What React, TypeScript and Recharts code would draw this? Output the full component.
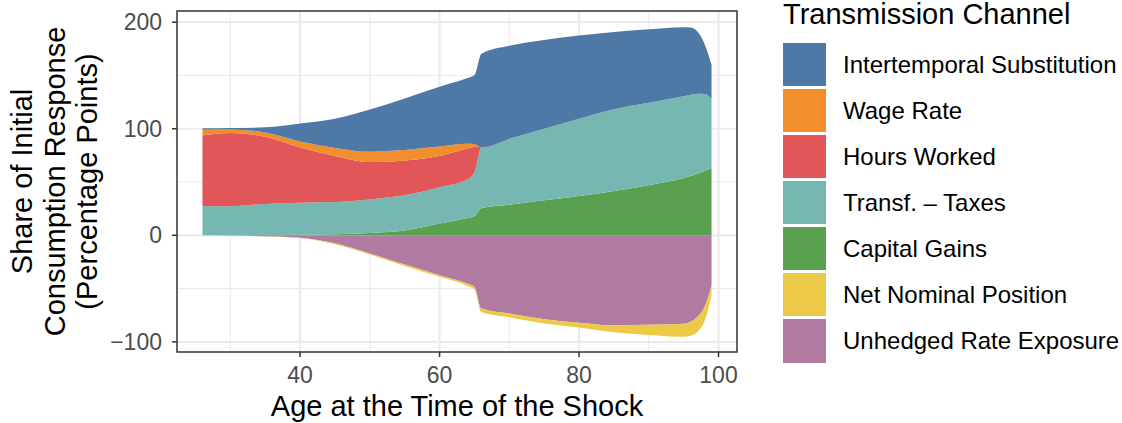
import { AreaChart, Area, XAxis, YAxis, CartesianGrid, ReferenceArea, Label } from 'recharts';

const ages = [26, 30, 35, 40, 45, 50, 55, 60, 64, 65, 66, 70, 75, 80, 85, 90, 95, 96, 97, 98, 99];

// positive channels (stacked upward from 0, bottom first)
const capitalGains = [0, 0, 0.1, 0.5, 1.0, 2.2, 4.5, 11, 16.2, 18, 25.5, 28.7, 32.8, 36.8, 41.7, 47, 53.7, 55.6, 57.8, 60.3, 63.1];
const transfTaxes = [27.5, 27.3, 29.4, 30.1, 30.2, 31.5, 33.0, 34.0, 36.3, 41.0, 57.3, 61.9, 67.2, 72.5, 76.6, 77.5, 76.9, 76.4, 75, 72.2, 65];
const hoursWorked = [66.2, 68.7, 63.0, 51.9, 43.3, 35.0, 32.8, 29.5, 29.0, 23.8, 0, 0, 0, 0, 0, 0, 0, 0, 0, 0, 0];
const wageRate = [5.3, 3.3, 4.0, 5.5, 7.5, 9.8, 9.7, 8.8, 4.4, 2.7, 0, 0, 0, 0, 0, 0, 0, 0, 0, 0, 0];
const intertemporal = [1.4, 1.3, 4.8, 17.0, 27.5, 39.5, 48.5, 56.2, 61.7, 64.9, 87.7, 87.4, 83.4, 78.1, 72.5, 68.8, 64.6, 63, 58.2, 47.1, 31.9];

// negative channels (stacked downward from 0)
const unhedged = [-0.05, -0.2, -0.8, -2.2, -7.5, -17, -27.5, -37.5, -45.5, -48.4, -68.7, -73.4, -78.7, -82, -84.5, -84, -83, -81, -76.5, -67, -47];
const netNominal = [-0.05, -0.1, -0.2, -0.4, -0.8, -1.0, -1.4, -1.5, -2.0, -2.2, -3.3, -3.6, -4.1, -4.5, -6.5, -9.6, -12.3, -13.3, -14, -13.5, -9];

const xTicks = [40, 60, 80, 100];
const yTicks = [-100, 0, 100, 200];
const xMinor = [30, 50, 70, 90];
const yMinor = [-50, 50, 150];
const xDomain = [22.35, 102.65];
const yDomain = [-109.5, 210.5];

const series = [
  { key: 'capitalGains', name: 'Capital Gains', color: '#59A14F' },
  { key: 'transfTaxes', name: 'Transf. \u2013 Taxes', color: '#76B7B2' },
  { key: 'hoursWorked', name: 'Hours Worked', color: '#E15759' },
  { key: 'wageRate', name: 'Wage Rate', color: '#F28E2B' },
  { key: 'intertemporal', name: 'Intertemporal Substitution', color: '#4E79A7' },
  { key: 'unhedged', name: 'Unhedged Rate Exposure', color: '#B07AA1' },
  { key: 'netNominal', name: 'Net Nominal Position', color: '#EDC948' },
];

const legendOrder = ['intertemporal', 'wageRate', 'hoursWorked', 'transfTaxes', 'capitalGains', 'netNominal', 'unhedged'];

const data = ages.map((age, i) => ({
  age,
  capitalGains: capitalGains[i],
  transfTaxes: transfTaxes[i],
  hoursWorked: hoursWorked[i],
  wageRate: wageRate[i],
  intertemporal: intertemporal[i],
  unhedged: unhedged[i],
  netNominal: netNominal[i],
}));

const FONT = '"Liberation Sans", Arial, Helvetica, sans-serif';
const W = 1122;
const H = 423;
const PLOT_TOP = 11;
const PLOT_LEFT = 177;
const PLOT_RIGHT = 737;
const PLOT_BOTTOM = 352;

function YTitle() {
  const cy = (PLOT_TOP + PLOT_BOTTOM) / 2;
  const lines = ['Share of Initial', 'Consumption Response', '(Percentage Points)'];
  const xs = [22, 55, 87];
  return (
    <g>
      {lines.map((t, i) => (
        <text
          key={t}
          x={xs[i]}
          y={cy}
          transform={`rotate(-90 ${xs[i]} ${cy})`}
          textAnchor="middle"
          dominantBaseline="central"
          fontSize={29}
          fontFamily={FONT}
          fill="#000"
        >
          {t}
        </text>
      ))}
    </g>
  );
}

function XTitle() {
  return (
    <text x={(PLOT_LEFT + PLOT_RIGHT) / 2} y={416} textAnchor="middle" fontSize={29} fontFamily={FONT} fill="#000">
      Age at the Time of the Shock
    </text>
  );
}

export default function App() {
  return (
    <div style={{ position: 'absolute', left: 0, top: 0, width: W, height: H, background: '#fff', fontFamily: FONT }}>
      <AreaChart
        width={W}
        height={H}
        data={data}
        stackOffset="sign"
        margin={{ top: PLOT_TOP, right: W - PLOT_RIGHT, bottom: 0, left: 0 }}
      >
        <CartesianGrid stroke="#EBEBEB" strokeWidth={1.1} horizontalValues={yMinor} verticalValues={xMinor} />
        <CartesianGrid stroke="#EBEBEB" strokeWidth={2.2} horizontalValues={yTicks} verticalValues={xTicks} />
        <XAxis
          dataKey="age"
          type="number"
          domain={xDomain}
          ticks={xTicks}
          allowDataOverflow
          height={H - PLOT_BOTTOM}
          axisLine={false}
          tickSize={5}
          tickMargin={10}
          tickLine={{ stroke: '#333333', strokeWidth: 1.5 }}
          tick={{ fill: '#4D4D4D', fontSize: 23, fontFamily: FONT }}
        >
          <Label content={() => <XTitle />} />
        </XAxis>
        <YAxis
          type="number"
          domain={yDomain}
          ticks={yTicks}
          allowDataOverflow
          width={PLOT_LEFT}
          axisLine={false}
          tickSize={5}
          tickMargin={10}
          tickLine={{ stroke: '#333333', strokeWidth: 1.5 }}
          tick={{ fill: '#4D4D4D', fontSize: 23, fontFamily: FONT }}
          tickFormatter={(v) => (v < 0 ? `\u2212${Math.abs(v)}` : `${v}`)}
        >
          <Label content={() => <YTitle />} />
        </YAxis>
        {series.map((s) => (
          <Area
            key={s.key}
            dataKey={s.key}
            name={s.name}
            stackId="a"
            type="monotone"
            fill={s.color}
            fillOpacity={1}
            stroke="none"
            dot={false}
            activeDot={false}
            isAnimationActive={false}
          />
        ))}
        <ReferenceArea
          x1={xDomain[0]}
          x2={xDomain[1]}
          y1={yDomain[0]}
          y2={yDomain[1]}
          fill="none"
          stroke="#333333"
          strokeWidth={1.5}
        />
      </AreaChart>

      {/* legend */}
      <div style={{ position: 'absolute', left: 783, top: 0 }}>
        <div style={{ position: 'absolute', left: 0, top: 0, fontSize: 29, lineHeight: '29px', whiteSpace: 'nowrap', color: '#000' }}>
          Transmission Channel
        </div>
        {legendOrder.map((k, i) => {
          const s = series.find((x) => x.key === k)!;
          const top = 42.7 + i * 46.1;
          return (
            <div key={k}>
              <div style={{ position: 'absolute', left: 0, top, width: 43.3, height: 43.3, background: s.color }} />
              <div
                style={{
                  position: 'absolute',
                  left: 60,
                  top,
                  height: 43.3,
                  lineHeight: '43.3px',
                  fontSize: 24,
                  whiteSpace: 'nowrap',
                  color: '#000',
                }}
              >
                {s.name}
              </div>
            </div>
          );
        })}
      </div>
    </div>
  );
}
